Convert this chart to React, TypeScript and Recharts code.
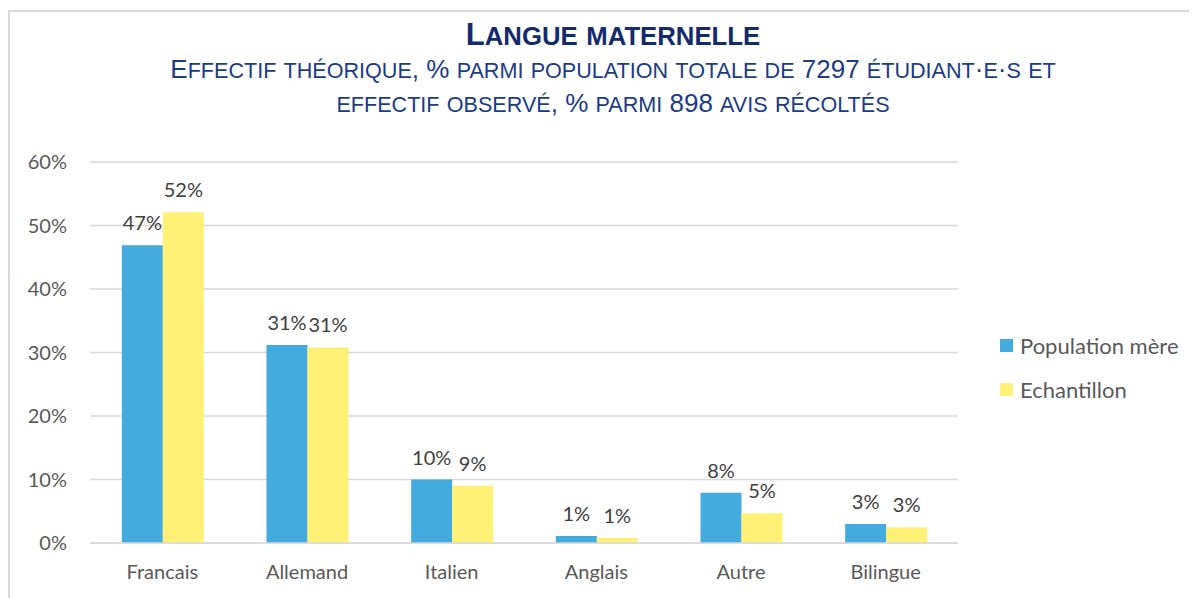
import { Bar, BarChart, CartesianGrid, LabelList, XAxis, YAxis } from "recharts";

const categories = ["Francais", "Allemand", "Italien", "Anglais", "Autre", "Bilingue"];
const populationMere = [46.9, 31.2, 10.0, 1.1, 7.9, 3.0];
const echantillon = [52.1, 30.8, 9.0, 0.8, 4.7, 2.5];
const yTicks = [0, 10, 20, 30, 40, 50, 60];

const BLUE = "#43ABDE";
const YELLOW = "#FFF176";
const GRAY_TEXT = "#595959";
const NAVY = "#142A6E";
const FONT = "Lato, 'Open Sans', sans-serif";
const NARROW = "'Liberation Sans Narrow', 'Liberation Sans', Arial, sans-serif";

const data = categories.map((name, i) => ({
    name,
    pop: populationMere[i],
    ech: echantillon[i],
}));

const pct = (v: any) => `${Math.round(Number(v))}%`;

// Word-style small caps: lowercase letters become capitals at a reduced size
function SmallCaps({ text, size }: { text: string; size: number }) {
    const parts: { t: string; small: boolean }[] = [];
    for (const ch of text) {
        const small = ch !== ch.toUpperCase();
        const last = parts[parts.length - 1];
        if (last && last.small === small) last.t += ch;
        else parts.push({ t: ch, small });
    }
    return (
        <>
            {parts.map((p, i) =>
                p.small ? (
                    <span key={i} style={{ fontSize: size * 0.83 }}>{p.t.toUpperCase()}</span>
                ) : (
                    <span key={i}>{p.t}</span>
                )
            )}
        </>
    );
}

export default function App() {
    return (
        <div style={{ position: "relative", width: 1189, height: 590, fontFamily: FONT }}>
            <div
                style={{
                    position: "absolute",
                    left: 0,
                    top: 2,
                    width: 1189,
                    height: 600,
                    borderLeft: "2px solid #d9d9d9",
                    borderTop: "2px solid #d9d9d9",
                    boxSizing: "border-box",
                }}
            />
            <div
                style={{
                    position: "absolute",
                    left: 0,
                    width: 1210,
                    top: 10,
                    textAlign: "center",
                    color: NAVY,
                    fontFamily: NARROW,
                }}
            >
                <div style={{ fontSize: 31, fontWeight: "bold", lineHeight: "34px" }}>
                    <SmallCaps text="Langue maternelle" size={31} />
                </div>
                <div style={{ fontSize: 26, lineHeight: "33px", color: "#1B3A8A" }}>
                    <SmallCaps text="Effectif théorique, % parmi population totale de 7297 étudiant·e·s et" size={26} />
                    <br />
                    <SmallCaps text="effectif observé, % parmi 898 avis récoltés" size={26} />
                </div>
            </div>

            <div style={{ position: "absolute", left: 0, top: 0 }}>
                <BarChart
                    width={1189}
                    height={590}
                    data={data}
                    margin={{ top: 154, right: 239, left: 0, bottom: 0 }}
                    barCategoryGap="22%"
                    barGap={0}
                >
                    <CartesianGrid vertical={false} stroke="#d9d9d9" strokeWidth={1.5} />
                    <XAxis
                        dataKey="name"
                        height={55}
                        axisLine={{ stroke: "#d9d9d9", strokeWidth: 1.5 }}
                        tickLine={false}
                        tickSize={0}
                        tickMargin={22}
                        tick={{ fill: GRAY_TEXT, fontSize: 20, fontFamily: FONT }}
                    />
                    <YAxis
                        width={82}
                        domain={[0, 60]}
                        ticks={yTicks}
                        tickFormatter={(v) => `${v}%`}
                        axisLine={false}
                        tickLine={false}
                        tickSize={0}
                        tickMargin={23}
                        tick={{ fill: GRAY_TEXT, fontSize: 20, fontFamily: FONT }}
                    />
                    <Bar dataKey="pop" fill={BLUE} isAnimationActive={false}>
                        <LabelList
                            dataKey="pop"
                            position="top"
                            offset={15}
                            formatter={pct}
                            style={{ fill: "#404040", fontSize: 20, fontFamily: FONT }}
                        />
                    </Bar>
                    <Bar dataKey="ech" fill={YELLOW} isAnimationActive={false}>
                        <LabelList
                            dataKey="ech"
                            position="top"
                            offset={15}
                            formatter={pct}
                            style={{ fill: "#404040", fontSize: 20, fontFamily: FONT }}
                        />
                    </Bar>
                </BarChart>
            </div>

            <div style={{ position: "absolute", left: 992, top: 325, color: GRAY_TEXT, fontSize: 22 }}>
                {[
                    { label: "Population mère", color: BLUE },
                    { label: "Echantillon", color: YELLOW },
                ].map((item) => (
                    <div key={item.label} style={{ display: "flex", alignItems: "center", height: 24, marginBottom: 20 }}>
                        <span style={{ width: 13, height: 13, background: item.color, marginRight: 7, display: "inline-block" }} />
                        <span>{item.label}</span>
                    </div>
                ))}
            </div>
        </div>
    );
}
